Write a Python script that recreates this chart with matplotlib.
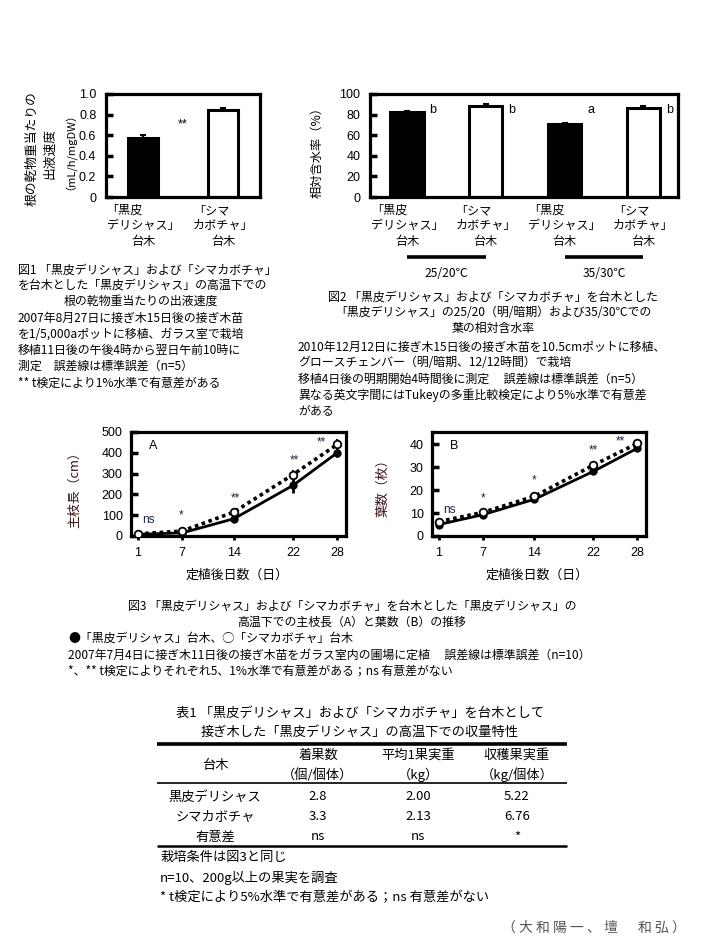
import matplotlib
matplotlib.use('Agg')
import matplotlib.pyplot as plt

plt.rcParams['font.family'] = ['Noto Sans CJK JP', 'DejaVu Sans']

# ---------------- data ----------------
# Fig.1
fig1_vals = [0.57, 0.84]
fig1_err = [0.03, 0.02]
fig1_yticks = [0, 0.2, 0.4, 0.6, 0.8, 1.0]
fig1_yticklabels = ['0', '0.2', '0.4', '0.6', '0.8', '1.0']
cat_top = ['「黒皮\nデリシャス」', '「シマ\nカボチャ」']
cat_bottom = '台木'
bar_fill = ['black', 'white']

# Fig.2
fig2_vals = [83, 88, 71, 86]
fig2_err = [0.6, 2.0, 1.0, 2.0]
fig2_letters = ['b', 'b', 'a', 'b']
fig2_fill = ['black', 'white', 'black', 'white']
fig2_yticks = [0, 20, 40, 60, 80, 100]
fig2_temps = ['25/20℃', '35/30℃']

# Fig.3
days = [1, 7, 14, 22, 28]
len_kuro = [8, 15, 83, 243, 400]
len_kuro_err = [2, 3, 10, 34, 20]
len_shima = [10, 24, 115, 295, 440]
len_shima_err = [2, 4, 10, 24, 25]
len_sig = ['ns', '*', '**', '**', '**']
len_sig_x = [2.4, 6.8, 14.2, 22.2, 25.8]
len_sig_y = [78, 100, 182, 362, 449]

leaf_kuro = [5.0, 9.3, 16.0, 28.1, 38.2]
leaf_kuro_err = [0.4, 0.4, 0.6, 0.8, 0.8]
leaf_shima = [6.3, 10.3, 17.3, 30.8, 40.3]
leaf_shima_err = [0.4, 0.4, 0.6, 0.8, 0.8]
leaf_sig = ['ns', '*', '*', '**', '**']
leaf_sig_x = [2.4, 7.0, 14.0, 22.0, 25.7]
leaf_sig_y = [11.4, 16.5, 24.0, 37.2, 41.1]

# Table 1
tbl_rows = ['黒皮デリシャス', 'シマカボチャ', '有意差']
tbl_head1 = ['着果数', '平均1果実重', '収穫果実重']
tbl_head2 = ['（個/個体）', '（kg）', '（kg/個体）']
fruit_count = ['2.8', '3.3', 'ns']
fruit_weight = ['2.00', '2.13', 'ns']
fruit_yield = ['5.22', '6.76', '*']

# ---------------- figure ----------------
W, H = 705, 944
fig = plt.figure(figsize=(W / 100, H / 100), dpi=100)


def axpx(l, t, r, b):
    return fig.add_axes([l / W, 1 - b / H, (r - l) / W, (b - t) / H])


def ftext(x, y, s, **kw):
    kw.setdefault('va', 'center')
    fig.text(x / W, 1 - y / H, s, **kw)


TICKFONT = dict(family=['Liberation Sans', 'DejaVu Sans'], size=9)
SIGFAM = ['Liberation Sans', 'DejaVu Sans']


def style_bar_axes(ax):
    for sp in ax.spines.values():
        sp.set_linewidth(2.3)
    ax.tick_params(axis='y', direction='in', length=5, width=2.5, pad=7)
    ax.tick_params(axis='x', length=0, labelbottom=False)
    for lab in ax.get_yticklabels():
        lab.set_fontproperties(matplotlib.font_manager.FontProperties(**TICKFONT))


def cat_labels(ax, xs, names):
    for x, n in zip(xs, names):
        ax.annotate(n, xy=(x, 0), xycoords=('data', 'axes fraction'),
                    xytext=(0, -5), textcoords='offset points',
                    ha='center', va='top', multialignment='left',
                    fontsize=8.7, linespacing=1.22)
        ax.annotate(cat_bottom, xy=(x, 0), xycoords=('data', 'axes fraction'),
                    xytext=(0, -27.5), textcoords='offset points',
                    ha='center', va='top', fontsize=8.7)


# ----- Fig 1 -----
ax1 = axpx(106, 94, 260, 197)
x1 = list(range(len(fig1_vals)))
ax1.bar(x1, fig1_vals, width=0.375, color=bar_fill, edgecolor='black', linewidth=2.2)
ax1.errorbar(x1, fig1_vals, yerr=[[0, 0], fig1_err], fmt='none', ecolor='black',
             elinewidth=1.5, capsize=2.5, capthick=1.5)
ax1.set_xlim(-0.4625, 1.4625)
ax1.set_ylim(0, 1.0)
ax1.set_yticks(fig1_yticks)
ax1.set_yticklabels(fig1_yticklabels)
style_bar_axes(ax1)
ax1.text(0.5, 0.70, '**', ha='center', va='center', fontsize=9, family=SIGFAM)
cat_labels(ax1, x1, cat_top)
ftext(32, 149, '根の乾物重当たりの', rotation=90, ha='center', fontsize=9.2)
ftext(50, 153, '出液速度', rotation=90, ha='center', fontsize=9.2)
ftext(65, 146, '（mL/h/mgDW）', rotation=90, ha='center', fontsize=8)

# ----- Fig 2 -----
ax2 = axpx(370, 94, 678, 197)
x2 = list(range(len(fig2_vals)))
ax2.bar(x2, fig2_vals, width=0.42, color=fig2_fill, edgecolor='black', linewidth=2.2)
ax2.errorbar(x2, fig2_vals, yerr=[[0] * 4, fig2_err], fmt='none', ecolor='black',
             elinewidth=1.5, capsize=2.5, capthick=1.5)
ax2.set_xlim(-0.47, 3.44)
ax2.set_ylim(0, 100)
ax2.set_yticks(fig2_yticks)
style_bar_axes(ax2)
for x, v, e, l in zip(x2, fig2_vals, fig2_err, fig2_letters):
    ax2.text(x + 0.33, 84, l, ha='center', va='center', fontsize=9, family=SIGFAM)
cat_labels(ax2, x2, cat_top * 2)
for i, t in enumerate(fig2_temps):
    ax2.plot([2 * i, 2 * i + 1], [-58, -58], color='black', lw=2.6,
             clip_on=False, solid_capstyle='butt')
    ax2.text(2 * i + 0.5, -74, t, ha='center', va='center', fontsize=8.7)
ftext(317, 149, '相対含水率（%）', rotation=90, ha='center', fontsize=8.8)

# ----- Fig 3 -----
def line_axes(ax, kuro, kuro_err, shima, shima_err, ylim, yticks, sig, sx, sy, letter, lx, ly):
    ax.plot(days, kuro, color='black', lw=2.0, zorder=3)
    ax.errorbar(days, kuro, yerr=kuro_err, fmt='none', ecolor='black', elinewidth=2, capsize=0, zorder=3)
    ax.plot(days, kuro, 'o', color='black', ms=5, zorder=4)
    ax.plot(days, shima, color='black', lw=2.6, linestyle=(0, (1, 1)),
            dash_capstyle='butt', zorder=2)
    ax.errorbar(days, shima, yerr=shima_err, fmt='none', ecolor='black', elinewidth=1.5, capsize=0, zorder=2)
    ax.plot(days, shima, 'o', mfc='white', mec='black', mew=1.3, ms=5.5, zorder=5)
    ax.set_xlim(0.05, 29.2)
    ax.set_ylim(*ylim)
    ax.set_yticks(yticks)
    ax.set_xticks(days)
    for sp in ax.spines.values():
        sp.set_linewidth(2.3)
    ax.tick_params(axis='y', direction='in', length=5, width=2.5, pad=6)
    ax.tick_params(axis='x', direction='out', length=3, width=2, pad=5)
    fp = matplotlib.font_manager.FontProperties(**TICKFONT)
    for lab in ax.get_yticklabels() + ax.get_xticklabels():
        lab.set_fontproperties(fp)
    for s, x, y in zip(sig, sx, sy):
        ax.text(x, y, s, ha='center', va='center', fontsize=8.5, color='#1c2340', family=SIGFAM)
    ax.text(lx, ly, letter, ha='center', va='center', fontsize=9, family=SIGFAM)


ax3 = axpx(131, 432, 346, 536)
line_axes(ax3, len_kuro, len_kuro_err, len_shima, len_shima_err, (0, 500),
          [0, 100, 200, 300, 400, 500], len_sig, len_sig_x, len_sig_y, 'A', 3.0, 431)
ax4 = axpx(432, 432, 646, 536)
line_axes(ax4, leaf_kuro, leaf_kuro_err, leaf_shima, leaf_shima_err, (0, 45.3),
          [0, 10, 20, 30, 40], leaf_sig, leaf_sig_x, leaf_sig_y, 'B', 3.1, 39)
ftext(75, 487, '主枝長（cm）', rotation=90, ha='center', fontsize=9.3, color='#3a1414')
ftext(383, 485, '葉数（枚）', rotation=90, ha='center', fontsize=9.3, color='#3a1414')
ftext(237, 575, '定植後日数（日）', ha='center', fontsize=9.3)
ftext(537, 575, '定植後日数（日）', ha='center', fontsize=9.3)

# ----- captions -----
CF = 8.6
fig1_caption = [
    (18, 270, '図1 「黒皮デリシャス」および「シマカボチャ」', 'left'),
    (18, 285, 'を台木とした「黒皮デリシャス」の高温下での', 'left'),
    (141, 301, '根の乾物重当たりの出液速度', 'center'),
    (18, 318, '2007年8月27日に接ぎ木15日後の接ぎ木苗', 'left'),
    (18, 334, 'を1/5,000aポットに移植、ガラス室で栽培', 'left'),
    (18, 350, '移植11日後の午後4時から翌日午前10時に', 'left'),
    (18, 366, '測定　誤差線は標準誤差（n=5）', 'left'),
    (18, 383, '** t検定により1%水準で有意差がある', 'left'),
]
for x, y, s, ha in fig1_caption:
    ftext(x, y, s, ha=ha, fontsize=CF)

fig2_caption = [
    (493, 297, '図2 「黒皮デリシャス」および「シマカボチャ」を台木とした', 'center'),
    (493, 313, '「黒皮デリシャス」の25/20（明/暗期）および35/30℃での', 'center'),
    (493, 328, '葉の相対含水率', 'center'),
    (298, 347, '2010年12月12日に接ぎ木15日後の接ぎ木苗を10.5cmポットに移植、', 'left'),
    (298, 363, 'グロースチェンバー（明/暗期、12/12時間）で栽培', 'left'),
    (298, 379, '移植4日後の明期開始4時間後に測定　 誤差線は標準誤差（n=5）', 'left'),
    (298, 395, '異なる英文字間にはTukeyの多重比較検定により5%水準で有意差', 'left'),
    (298, 411, 'がある', 'left'),
]
for x, y, s, ha in fig2_caption:
    ftext(x, y, s, ha=ha, fontsize=CF)

fig3_caption = [
    (352, 606, '図3 「黒皮デリシャス」および「シマカボチャ」を台木とした「黒皮デリシャス」の', 'center'),
    (352, 622, '高温下での主枝長（A）と葉数（B）の推移', 'center'),
    (68, 638, '●「黒皮デリシャス」台木、◯「シマカボチャ」台木', 'left'),
    (68, 655, '2007年7月4日に接ぎ木11日後の接ぎ木苗をガラス室内の圃場に定植　 誤差線は標準誤差（n=10）', 'left'),
    (68, 671, '*、** t検定によりそれぞれ5、1%水準で有意差がある；ns 有意差がない', 'left'),
]
for x, y, s, ha in fig3_caption:
    ftext(x, y, s, ha=ha, fontsize=CF)

# ----- Table 1 -----
TF = 9.5
ftext(360, 713, '表1 「黒皮デリシャス」および「シマカボチャ」を台木として', ha='center', fontsize=TF)
ftext(360, 732, '接ぎ木した「黒皮デリシャス」の高温下での収量特性', ha='center', fontsize=TF)
ov = fig.add_axes([0, 0, 1, 1], zorder=-1)
ov.set_xlim(0, W)
ov.set_ylim(H, 0)
ov.axis('off')
ov.plot([157, 567], [744, 744], color='black', lw=2.6, solid_capstyle='butt')
ov.plot([157, 567], [783, 783], color='black', lw=1.2, solid_capstyle='butt')
ov.plot([157, 567], [846, 846], color='black', lw=1.8, solid_capstyle='butt')
col_x = [215, 318, 418, 517]
ftext(col_x[0], 765, '台木', ha='center', fontsize=TF)
for cx, h1, h2 in zip(col_x[1:], tbl_head1, tbl_head2):
    ftext(cx, 755, h1, ha='center', fontsize=TF)
    ftext(cx, 775, h2, ha='center', fontsize=TF)
row_y = [797, 817, 837]
for ry, r, a, b, c in zip(row_y, tbl_rows, fruit_count, fruit_weight, fruit_yield):
    ftext(col_x[0], ry, r, ha='center', fontsize=TF)
    ftext(col_x[1], ry, a, ha='center', fontsize=TF)
    ftext(col_x[2], ry, b, ha='center', fontsize=TF)
    ftext(col_x[3], ry, c, ha='center', fontsize=TF)
ftext(160, 857, '栽培条件は図3と同じ', ha='left', fontsize=TF)
ftext(160, 878, 'n=10、200g以上の果実を調査', ha='left', fontsize=TF)
ftext(160, 898, '* t検定により5%水準で有意差がある；ns 有意差がない', ha='left', fontsize=TF)

ftext(686, 928, '（ 大 和 陽 一 、 壇 　 和 弘 ）', ha='right', fontsize=10, color='#555555')

fig.savefig('out.png', dpi=100)
